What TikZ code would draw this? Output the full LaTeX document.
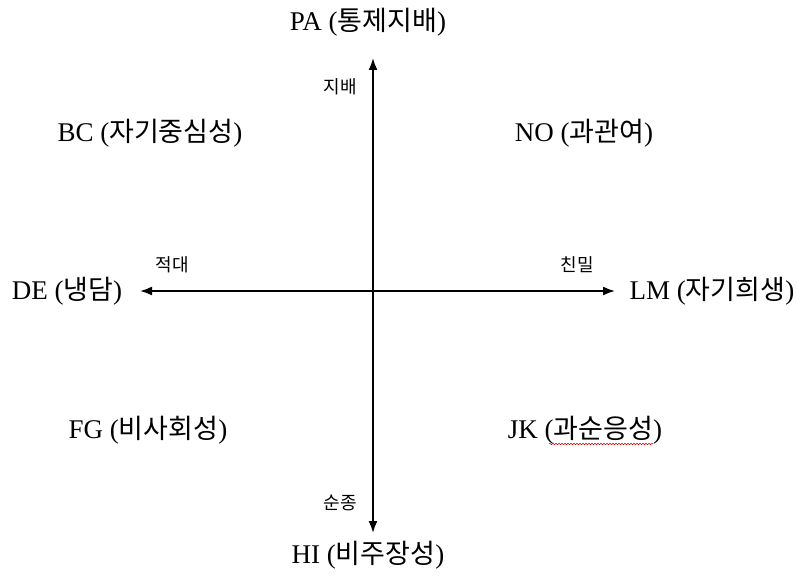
\documentclass[tikz,border=0pt]{standalone}
\usepackage{fontspec}
\setmainfont{Liberation Serif}
\newfontfamily\kr{Noto Sans CJK KR}
\usetikzlibrary{arrows.meta,decorations.pathmorphing}
\begin{document}
\begin{tikzpicture}[x=1pt,y=-1pt,
  big/.style={font=\fontsize{27}{30}\selectfont, inner sep=0pt, anchor=center},
  small/.style={font=\fontsize{18}{20}\selectfont\kr, inner sep=0pt, anchor=center},
  axis/.style={line width=1.8pt, -{Latex[length=12pt,width=9pt]}},
  squiggle/.style={red!80!black, line width=0.5pt, decorate, decoration={snake, amplitude=0.8pt, segment length=3pt}}]
\useasboundingbox[fill=white] (0,0) rectangle (797,580);
\coordinate (c) at (373,291);
\coordinate (top) at (373,58);
\coordinate (bot) at (373,533);
\coordinate (lft) at (140,291);
\coordinate (rgt) at (615,291);
\draw[axis] (c) -- (top);
\draw[axis] (c) -- (bot);
\draw[axis] (c) -- (lft);
\draw[axis] (c) -- (rgt);
\node[big] (pa) at (368,22) {PA ({\kr 통제지배})};
\node[big] (hi) at (368,555) {HI ({\kr 비주장성})};
\node[big] (de) at (67,291) {DE ({\kr 냉담})};
\node[big] (lm) at (712,291) {LM ({\kr 자기희생})};
\node[big] (bc) at (150,133) {BC ({\kr 자기중심성})};
\node[big] (no) at (584,133) {NO ({\kr 과관여})};
\node[big] (fg) at (148,430) {FG ({\kr 비사회성})};
\node[big] (jk) at (585,430) {JK ({\kr 과순응성})};
\node[small] (dom) at (340,87) {지배};
\node[small] (sub) at (340,503) {순종};
\node[small] (hos) at (172,265) {적대};
\node[small] (int) at (577,265) {친밀};
\coordinate (sq1) at (549,444);
\coordinate (sq2) at (653,444);
\draw[squiggle] (sq1) -- (sq2);
\end{tikzpicture}
\end{document}
